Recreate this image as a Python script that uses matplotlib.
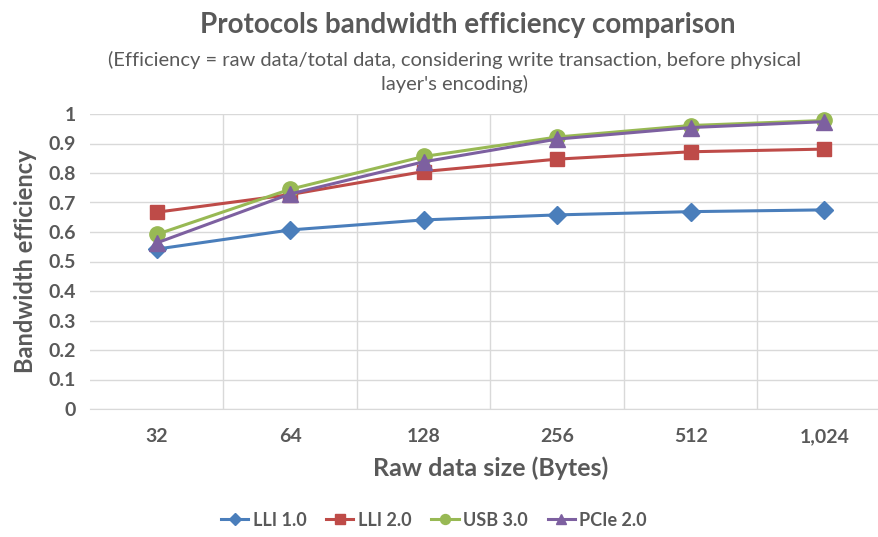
import matplotlib
matplotlib.use('Agg')
import matplotlib.pyplot as plt
import numpy as np

plt.rcParams['font.family'] = ['Lato', 'DejaVu Sans']

sizes = ['32', '64', '128', '256', '512', '1,024']
lli1 = [0.542, 0.607, 0.641, 0.658, 0.669, 0.675]
lli2 = [0.667, 0.727, 0.805, 0.847, 0.872, 0.881]
usb3 = [0.592, 0.745, 0.856, 0.922, 0.961, 0.978]
pcie2 = [0.563, 0.729, 0.838, 0.915, 0.954, 0.974]

series = [('LLI 1.0', lli1, '#4a7ebb', 'D', 9),
          ('LLI 2.0', lli2, '#be4b48', 's', 10),
          ('USB 3.0', usb3, '#98b954', 'o', 11),
          ('PCIe 2.0', pcie2, '#7d60a0', '^', 11)]

gray = '#595959'
fig = plt.figure(figsize=(8.79, 5.37), dpi=100)
ax = fig.add_axes([90 / 879, 128 / 537, 801 / 879, 295 / 537])

x = np.arange(len(sizes))
for name, vals, col, mk, ms in series:
    ax.plot(x, vals, color=col, marker=mk, markersize=ms, linewidth=2.2,
            label=name, clip_on=False, zorder=3)

ax.set_xlim(-0.5, len(sizes) - 0.5)
ax.set_ylim(0, 1)
ax.set_yticks(np.arange(0, 1.01, 0.1))
ax.set_yticklabels(['0', '0.1', '0.2', '0.3', '0.4', '0.5', '0.6', '0.7', '0.8', '0.9', '1'])
ax.set_xticks(x)
ax.set_xticklabels(sizes)
ax.set_xticks(np.arange(0.5, len(sizes) - 1, 1), minor=True)
ax.grid(True, axis='y', color='#d9d9d9', linewidth=1)
ax.grid(True, axis='x', which='minor', color='#d9d9d9', linewidth=1)
ax.tick_params(which='both', length=0, colors=gray, labelsize=14)
ax.tick_params(axis='x', pad=14)
ax.tick_params(axis='y', pad=10)
for lbl in ax.get_xticklabels() + ax.get_yticklabels():
    lbl.set_fontweight('bold')
for s in ['top', 'right', 'left']:
    ax.spines[s].set_visible(False)
ax.spines['bottom'].set_color('#d9d9d9')
ax.set_axisbelow(True)

ax.set_ylabel('Bandwidth efficiency', fontsize=17, fontweight='bold', color=gray, labelpad=8)
ax.set_xlabel('Raw data size (Bytes)', fontsize=18, fontweight='bold', color=gray, labelpad=8)

fig.text(468 / 879, 1 - 25 / 537, 'Protocols bandwidth efficiency comparison', ha='center', va='center',
         fontsize=20, fontweight='bold', color=gray)
fig.text(455 / 879, 1 - 72 / 537, "(Efficiency = raw data/total data, considering write transaction, before physical\nlayer's encoding)",
         ha='center', va='center', fontsize=14.5, color=gray, linespacing=1.35)

leg = fig.legend(loc='center', bbox_to_anchor=(434 / 879, 1 - 520 / 537), ncol=4, frameon=False,
                 fontsize=13, handlelength=1.5, columnspacing=1.1, handletextpad=0.25,
                 markerscale=0.65)
for t in leg.get_texts():
    t.set_color(gray)
    t.set_fontweight('bold')

fig.savefig('out.png', dpi=100)
